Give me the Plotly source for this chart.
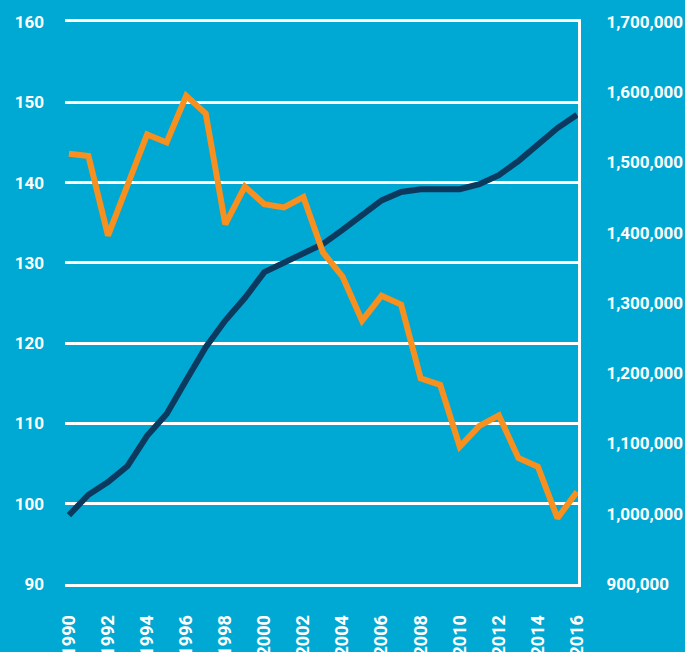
import plotly.graph_objects as go

years = list(range(1990, 2017))
index_values = [143.6, 143.3, 133.4, 139.9, 146.0, 145.0, 150.8, 148.6, 134.8, 139.5,
                137.3, 136.9, 138.2, 131.3, 128.3, 122.8, 125.9, 124.8, 115.6, 114.8,
                107.1, 109.7, 111.0, 105.7, 104.6, 98.2, 101.5]
count_values = [998000, 1027000, 1045000, 1068000, 1111000, 1142000, 1190000, 1237000,
                1275000, 1307000, 1344000, 1358000, 1371000, 1384000, 1404000, 1426000,
                1446000, 1458000, 1462000, 1462000, 1462000, 1469000, 1482000, 1502000,
                1525000, 1549000, 1568000]

left_ticks = [90, 100, 110, 120, 130, 140, 150, 160]
right_ticks = [900000, 1000000, 1100000, 1200000, 1300000, 1400000, 1500000, 1600000, 1700000]
x_ticks = list(range(1990, 2017, 2))

BG = "#00A9D4"
ORANGE = "#F7901E"
NAVY = "#0C3A5F"
FONT = "Roboto"

fig = go.Figure()
fig.add_trace(go.Scatter(x=years, y=count_values, mode="lines", yaxis="y",
                         line=dict(color=NAVY, width=6), hoverinfo="skip"))
fig.add_trace(go.Scatter(x=years, y=index_values, mode="lines", yaxis="y2",
                         line=dict(color=ORANGE, width=6), hoverinfo="skip"))

fig.update_layout(
    width=685, height=652,
    margin=dict(l=65, r=107, t=22, b=68, autoexpand=False),
    paper_bgcolor=BG, plot_bgcolor=BG,
    showlegend=False,
    font=dict(family=FONT, color="white"),
    xaxis=dict(
        range=[1989.8, 2016.05], tickvals=x_ticks, ticktext=[str(v) for v in x_ticks],
        tickangle=-90, showgrid=False, zeroline=False,
        showline=True, mirror=True, linecolor="white", linewidth=3,
        tickfont=dict(size=18, color="white", family=FONT, weight="bold"),
        ticks="", ticklabelstandoff=21, automargin=False,
    ),
    yaxis=dict(
        side="right", range=[900000, 1700000], tickvals=right_ticks,
        tickformat=",", showgrid=False,
        zeroline=False, showline=True, linecolor="white", linewidth=3,
        tickfont=dict(size=17, color="white", family=FONT, weight="bold"),
        ticks="", ticklabelstandoff=22, automargin=False,
    ),
    yaxis2=dict(
        overlaying="y", side="left", range=[90, 160], tickvals=left_ticks,
        showgrid=True, gridcolor="white", gridwidth=3,
        zeroline=False, showline=False,
        tickfont=dict(size=17, color="white", family=FONT, weight="bold"),
        ticks="", ticklabelstandoff=20, automargin=False,
    ),
)

fig.write_html("out.html")
